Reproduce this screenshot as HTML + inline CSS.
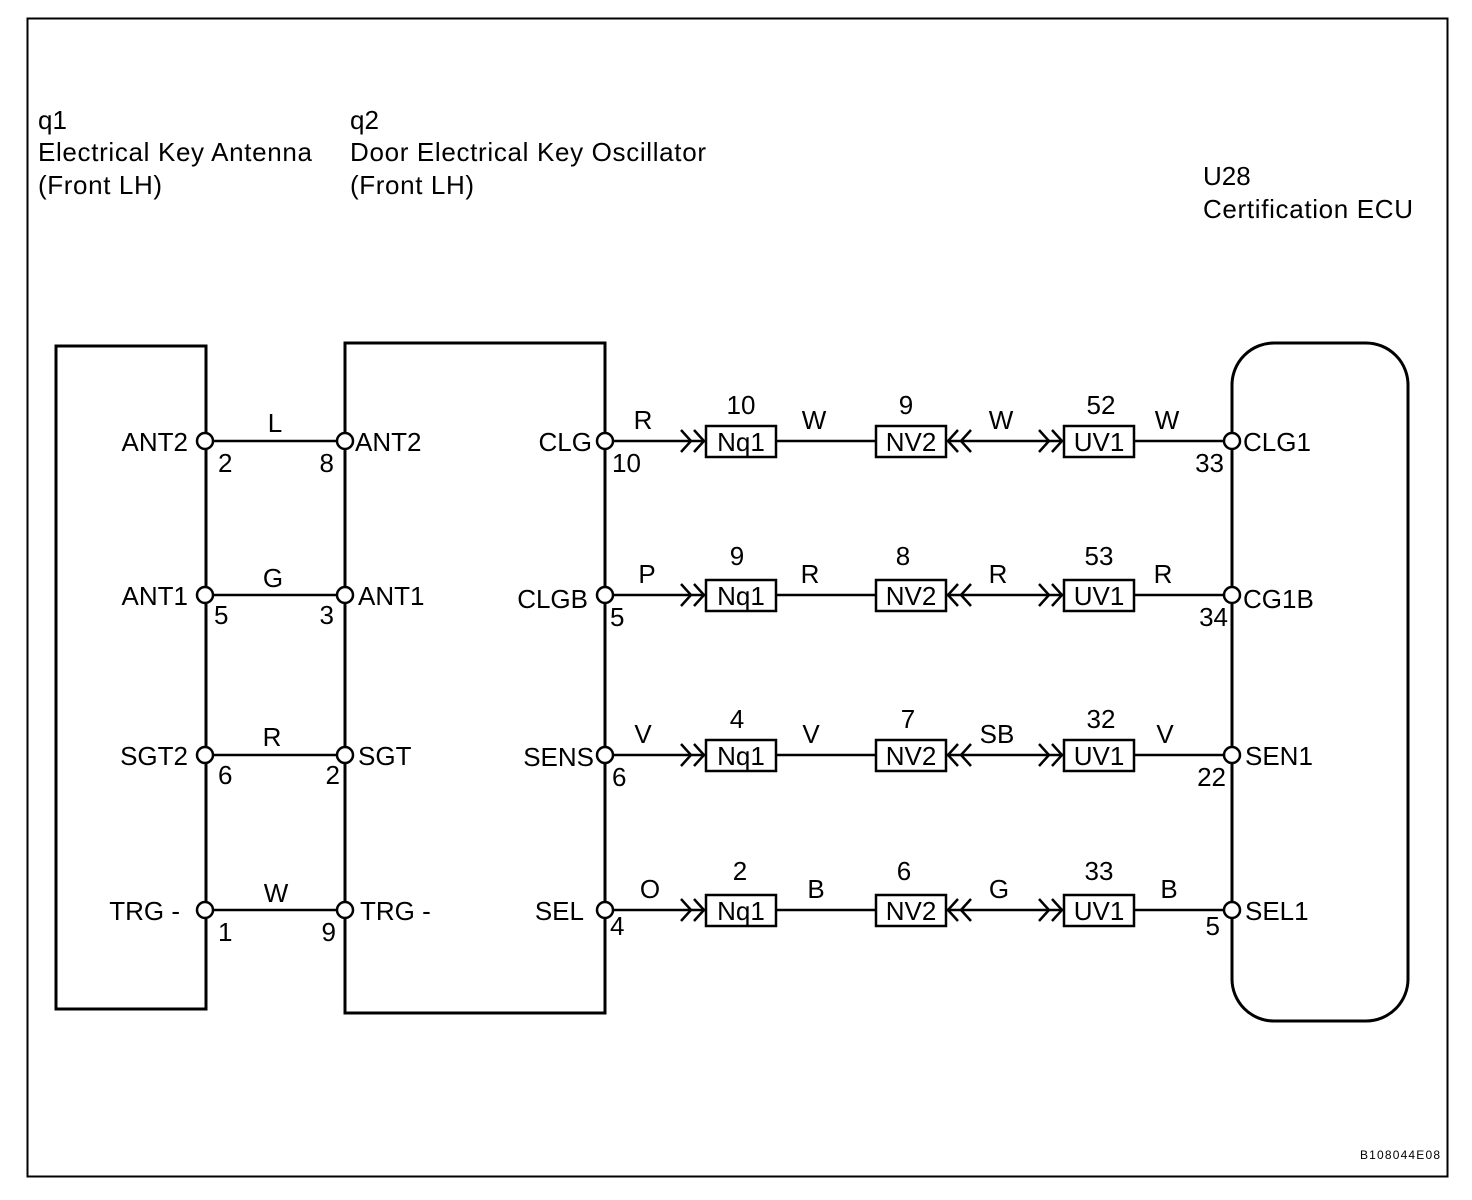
<!DOCTYPE html>
<html><head><meta charset="utf-8"><style>
html,body{margin:0;padding:0;background:#fff}
svg{display:block}
text{font-family:"Liberation Sans",Arial,sans-serif;font-size:26px;fill:#000}
</style></head><body>
<svg width="1472" height="1200" viewBox="0 0 1472 1200" xmlns="http://www.w3.org/2000/svg">
<g fill="none" stroke="#000" stroke-width="3">
<rect x="27.5" y="18.5" width="1420" height="1158" stroke-width="2"/>
<rect x="56" y="346" width="150" height="663"/>
<rect x="345" y="343" width="260" height="670"/>
<rect x="1232" y="343" width="176" height="678" rx="42" ry="42"/>
</g>
<text x="38" y="129">q1</text>
<text x="38" y="161" textLength="274">Electrical Key Antenna</text>
<text x="38" y="194" textLength="124">(Front LH)</text>
<text x="350" y="129">q2</text>
<text x="350" y="161" textLength="356">Door Electrical Key Oscillator</text>
<text x="350" y="194" textLength="124">(Front LH)</text>
<text x="1203" y="185">U28</text>
<text x="1203" y="218" textLength="210">Certification ECU</text>
<text x="1360" y="1159" style="font-size:12px" textLength="80">B108044E08</text>

<defs>
<g id="row">
<g fill="none" stroke="#000" stroke-width="2.5">
<line x1="213" y1="0" x2="337" y2="0"/>
<line x1="613" y1="0" x2="706" y2="0"/>
<line x1="776" y1="0" x2="876" y2="0"/>
<line x1="947" y1="0" x2="1064" y2="0"/>
<line x1="1134" y1="0" x2="1224" y2="0"/>
<polyline points="681,-11 691,0 681,11"/><polyline points="694,-11 704,0 694,11"/>
<polyline points="958,-11 948,0 958,11"/><polyline points="971,-11 961,0 971,11"/>
<polyline points="1039,-11 1049,0 1039,11"/><polyline points="1052,-11 1062,0 1052,11"/>
<rect x="706" y="-15" width="70" height="31" fill="#fff"/>
<rect x="876" y="-15" width="70" height="31" fill="#fff"/>
<rect x="1064" y="-15" width="70" height="31" fill="#fff"/>
<circle cx="205" cy="0" r="8" fill="#fff"/>
<circle cx="345" cy="0" r="8" fill="#fff"/>
<circle cx="605" cy="0" r="8" fill="#fff"/>
<circle cx="1232" cy="0" r="8" fill="#fff"/>
</g>
<text x="741" y="10" text-anchor="middle">Nq1</text>
<text x="911" y="10" text-anchor="middle">NV2</text>
<text x="1099" y="10" text-anchor="middle">UV1</text>
</g>
</defs>

<g transform="translate(0,441)"><use href="#row"/>
<text x="188" y="10" text-anchor="end">ANT2</text><text x="355" y="10">ANT2</text>
<text x="218" y="31">2</text><text x="334" y="31" text-anchor="end">8</text>
<text x="275" y="-9" text-anchor="middle">L</text>
<text x="592" y="10" text-anchor="end">CLG</text><text x="612" y="31">10</text>
<text x="643" y="-12" text-anchor="middle">R</text>
<text x="741" y="-27" text-anchor="middle">10</text><text x="814" y="-12" text-anchor="middle">W</text>
<text x="906" y="-27" text-anchor="middle">9</text><text x="1001" y="-12" text-anchor="middle">W</text>
<text x="1101" y="-27" text-anchor="middle">52</text><text x="1167" y="-12" text-anchor="middle">W</text>
<text x="1224" y="31" text-anchor="end">33</text><text x="1243" y="10">CLG1</text>
</g>
<g transform="translate(0,595)"><use href="#row"/>
<text x="188" y="10" text-anchor="end">ANT1</text><text x="358" y="10">ANT1</text>
<text x="214" y="29">5</text><text x="334" y="29" text-anchor="end">3</text>
<text x="273" y="-8" text-anchor="middle">G</text>
<text x="588" y="13" text-anchor="end">CLGB</text><text x="610" y="31">5</text>
<text x="647" y="-12" text-anchor="middle">P</text>
<text x="737" y="-30" text-anchor="middle">9</text><text x="810" y="-12" text-anchor="middle">R</text>
<text x="903" y="-30" text-anchor="middle">8</text><text x="998" y="-12" text-anchor="middle">R</text>
<text x="1099" y="-30" text-anchor="middle">53</text><text x="1163" y="-12" text-anchor="middle">R</text>
<text x="1228" y="31" text-anchor="end">34</text><text x="1243" y="13">CG1B</text>
</g>
<g transform="translate(0,755)"><use href="#row"/>
<text x="188" y="10" text-anchor="end">SGT2</text><text x="358" y="10">SGT</text>
<text x="218" y="29">6</text><text x="340" y="29" text-anchor="end">2</text>
<text x="272" y="-9" text-anchor="middle">R</text>
<text x="594" y="11" text-anchor="end">SENS</text><text x="612" y="31">6</text>
<text x="643" y="-12" text-anchor="middle">V</text>
<text x="737" y="-27" text-anchor="middle">4</text><text x="811" y="-12" text-anchor="middle">V</text>
<text x="908" y="-27" text-anchor="middle">7</text><text x="997" y="-12" text-anchor="middle">SB</text>
<text x="1101" y="-27" text-anchor="middle">32</text><text x="1165" y="-12" text-anchor="middle">V</text>
<text x="1226" y="31" text-anchor="end">22</text><text x="1245" y="10">SEN1</text>
</g>
<g transform="translate(0,910)"><use href="#row"/>
<text x="180" y="10" text-anchor="end">TRG -</text><text x="360" y="10">TRG -</text>
<text x="218" y="31">1</text><text x="336" y="31" text-anchor="end">9</text>
<text x="276" y="-8" text-anchor="middle">W</text>
<text x="584" y="10" text-anchor="end">SEL</text><text x="610" y="25">4</text>
<text x="650" y="-12" text-anchor="middle">O</text>
<text x="740" y="-30" text-anchor="middle">2</text><text x="816" y="-12" text-anchor="middle">B</text>
<text x="904" y="-30" text-anchor="middle">6</text><text x="999" y="-12" text-anchor="middle">G</text>
<text x="1099" y="-30" text-anchor="middle">33</text><text x="1169" y="-12" text-anchor="middle">B</text>
<text x="1220" y="25" text-anchor="end">5</text><text x="1245" y="10">SEL1</text>
</g>
</svg>
</body></html>
